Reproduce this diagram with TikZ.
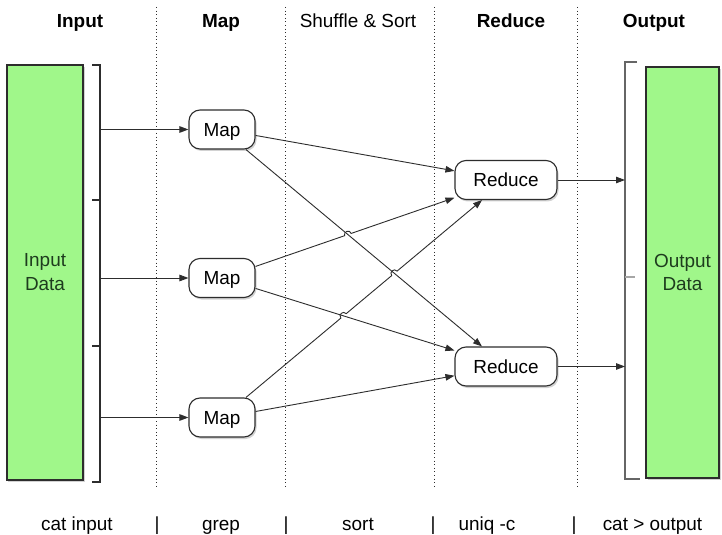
\documentclass[tikz,border=0pt]{standalone}
\usepackage{fontspec}
\setmainfont{Liberation Sans}
\usetikzlibrary{arrows.meta,calc,intersections,shadows}

\definecolor{boxgreen}{RGB}{160,247,138}
\definecolor{boxtext}{RGB}{30,60,30}
\definecolor{inkgray}{RGB}{45,45,45}

\tikzset{
  txt/.style={font=\fontsize{19}{24}\selectfont, inner sep=0pt, anchor=base},
  hdr/.style={font=\fontsize{19}{24}\selectfont\bfseries, inner sep=0pt, anchor=base},
  softshadow/.style={drop shadow={shadow xshift=1.5bp, shadow yshift=-2bp, opacity=0.35}},
  datastore/.style={draw=inkgray, line width=1.2bp, fill=boxgreen, text=boxtext,
    align=center, inner sep=0pt, font=\fontsize{19}{24}\selectfont, softshadow},
  task/.style={draw=inkgray, line width=1.1bp, fill=white, rounded corners=11bp,
    minimum height=39bp, inner sep=0pt, text height=13.6bp, text depth=0bp,
    font=\fontsize{19}{24}\selectfont, softshadow},
  flow/.style={draw=inkgray, line width=0.9bp, -{Triangle[length=9bp,width=6.5bp]}},
  sep/.style={draw=inkgray, line width=1bp, dash pattern=on 1bp off 2.6bp},
  bracket/.style={draw=inkgray, line width=1.2bp},
  obracket/.style={draw=black!60, line width=1.5bp},
}

\begin{document}
\begin{tikzpicture}[x=1bp, y=-1bp]
  \fill[white] (0,0) rectangle (722,535);
  \useasboundingbox (0,0) rectangle (722,535);

  % column separators
  \foreach \xx in {156,285,434,577}
    \draw[sep] (\xx,7) -- (\xx,488);

  % column headings
  \node[hdr] (hin)  at (80,27.5)  {Input};
  \node[hdr] (hmap) at (221,27.5) {Map};
  \node[txt] (hsh)  at (358,27.5) {Shuffle \& Sort};
  \node[hdr] (hred) at (511,27.5) {Reduce};
  \node[hdr] (hout) at (654,27.5) {Output};

  % data stores
  \node[datastore, minimum width=76bp, minimum height=415bp] (inbox) at (45,272.5) {Input\\Data};
  \node[datastore, minimum width=73bp, minimum height=411bp] (outbox) at (682.5,272.5) {Output\\Data};

  % input splits
  \draw[bracket] (92,65) -- (100,65) -- (100,482) -- (92,482);
  \draw[bracket] (92,200) -- (100,200);
  \draw[bracket] (92,346) -- (100,346);
  \coordinate (i1) at (100,129.5);
  \coordinate (i2) at (100,278);
  \coordinate (i3) at (100,417.5);

  % output collection
  \draw[obracket] (637,62) -- (625,62) -- (625,479) -- (640,479);
  \draw[obracket, draw=black!35] (625,277) -- (635,277);
  \coordinate (o1) at (625,180);
  \coordinate (o2) at (625,366.5);

  % tasks
  \node[task, minimum width=66bp] (m1) at (222,129.5) {Map};
  \node[task, minimum width=66bp] (m2) at (222,278)   {Map};
  \node[task, minimum width=66bp] (m3) at (222,417.5) {Map};
  \node[task, minimum width=102bp] (r1) at (506,180)   {Reduce};
  \node[task, minimum width=102bp] (r2) at (506,366.5) {Reduce};

  % feeding the mappers and collecting the reducers
  \draw[flow] (i1) -- (m1);
  \draw[flow] (i2) -- (m2);
  \draw[flow] (i3) -- (m3);
  \draw[flow] (r1) -- (o1);
  \draw[flow] (r2) -- (o2);

  % crossing points of the shuffle lines
  \path[name path=pa] (m1.center) -- (r2.center);
  \path[name path=pb] (m2.center) -- (r1.center);
  \path[name path=pc] (m2.center) -- (r2.center);
  \path[name path=pd] (m3.center) -- (r1.center);
  \path[name intersections={of=pa and pb, by=x1}];
  \path[name intersections={of=pa and pd, by=x2}];
  \path[name intersections={of=pc and pd, by=x3}];

  \coordinate (h1a) at ($(x1)!3.5bp!(m2)$);
  \coordinate (h1b) at ($(x1)!3.5bp!(r1)$);
  \coordinate (h3a) at ($(x3)!3.5bp!(m3)$);
  \coordinate (h3b) at ($(x3)!3.5bp!(r1)$);
  \coordinate (h2a) at ($(x2)!3.5bp!(m3)$);
  \coordinate (h2b) at ($(x2)!3.5bp!(r1)$);

  % shuffle lines
  \draw[flow] (m1) -- (r1);
  \draw[flow] (m1) -- (r2);
  \draw[flow] (m2) -- (r2);
  \draw[flow] (m3) -- (r2);
  \draw[flow] (m2) -- (h1a)
    .. controls ($(h1a)!4.5bp!90:(x1)$) and ($(h1b)!4.5bp!-90:(x1)$) .. (h1b) -- (r1);
  \draw[flow] (m3) -- (h3a)
    .. controls ($(h3a)!4.5bp!90:(x3)$) and ($(h3b)!4.5bp!-90:(x3)$) .. (h3b) -- (h2a)
    .. controls ($(h2a)!4.5bp!90:(x2)$) and ($(h2b)!4.5bp!-90:(x2)$) .. (h2b) -- (r1);

  % equivalent shell pipeline
  \node[txt] (c1) at (77,530)    {cat input};
  \node[txt] (p1) at (157,530)   {|};
  \node[txt] (c2) at (221,530)   {grep};
  \node[txt] (p2) at (286,530)   {|};
  \node[txt] (c3) at (358,530)   {sort};
  \node[txt] (p3) at (433,530)   {|};
  \node[txt] (c4) at (487,530)   {uniq -c};
  \node[txt] (p4) at (574,530)   {|};
  \node[txt] (c5) at (652.5,530) {cat > output};
\end{tikzpicture}
\end{document}
